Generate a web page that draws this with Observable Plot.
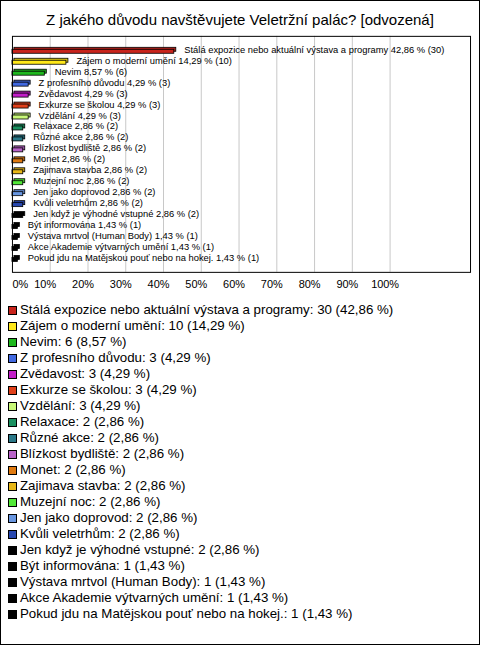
<!DOCTYPE html>
<html>
<head>
<meta charset="utf-8">
<script src="https://cdn.jsdelivr.net/npm/d3@7"></script>
<script src="https://cdn.jsdelivr.net/npm/@observablehq/plot@0.6"></script>
<style>
  html, body { margin: 0; padding: 0; background: #fff; }
  #page { position: relative; width: 480px; height: 645px; box-sizing: border-box; border: 1px solid #000; overflow: hidden; font-family: "Liberation Sans", Arial, sans-serif; }
  #title { position: absolute; left: 0; top: 9px; width: 478px; text-align: center; font-size: 15px; line-height: 20px; color: #000; }
  #chart { position: absolute; left: -1px; top: -1px; }
  #legend { position: absolute; left: 7px; top: 301px; font-size: 13.3px; color: #000; }
  .row { height: 16px; line-height: 16px; display: flex; align-items: center; white-space: nowrap; }
  .sw { width: 7px; height: 7px; border: 1px solid #000; margin-right: 3px; flex: none; }
</style>
</head>
<body>
<div id="page">
  <div id="title">Z jakého důvodu navštěvujete Veletržní palác? [odvozená]</div>
  <div id="chart"></div>
  <div id="legend"></div>
</div>
<script>
const categories = [
  "Stálá expozice nebo aktuální výstava a programy",
  "Zájem o moderní umění",
  "Nevim",
  "Z profesního důvodu",
  "Zvědavost",
  "Exkurze se školou",
  "Vzdělání",
  "Relaxace",
  "Různé akce",
  "Blízkost bydliště",
  "Monet",
  "Zajimava stavba",
  "Muzejní noc",
  "Jen jako doprovod",
  "Kvůli veletrhům",
  "Jen když je výhodné vstupné",
  "Být informována",
  "Výstava mrtvol (Human Body)",
  "Akce Akademie výtvarných umění",
  "Pokud jdu na Matějskou pouť nebo na hokej."
];
const counts = [30, 10, 6, 3, 3, 3, 3, 2, 2, 2, 2, 2, 2, 2, 2, 2, 1, 1, 1, 1];
const percents = [42.86, 14.29, 8.57, 4.29, 4.29, 4.29, 4.29, 2.86, 2.86, 2.86, 2.86, 2.86, 2.86, 2.86, 2.86, 2.86, 1.43, 1.43, 1.43, 1.43];
const colors = [
  "#c8241c", "#ffe81a", "#1eb81e", "#4169e1", "#c21ec8", "#e0401a", "#c8f878",
  "#1a9060", "#2a7888", "#b862c8", "#e07a10", "#e8b818", "#52e838", "#6896e0",
  "#2848b0", "#000000", "#000000", "#000000", "#000000", "#000000"
];
const tickValues = [0, 10, 20, 30, 40, 50, 60, 70, 80, 90, 100];
const tickLabels = ["0%", "10%", "20%", "30%", "40%", "50%", "60%", "70%", "80%", "90%", "100%"];

const fmt = v => v.toFixed(2).replace(".", ",");
const data = categories.map((name, i) => ({
  name, count: counts[i], pct: percents[i], color: colors[i]
}));
const ticks = tickValues.map((v, i) => ({v, label: tickLabels[i]}));

const darker = c => d3.color(c).darker(0.4).formatHex();

const chart = Plot.plot({
  width: 481,
  height: 301,
  marginTop: 36,
  marginBottom: 28,
  marginLeft: 12,
  marginRight: 9,
  style: {fontFamily: "Liberation Sans, Arial, sans-serif", background: "transparent", overflow: "visible"},
  x: {domain: [0, 121.3], axis: null},
  y: {domain: categories, axis: null, padding: 0},
  marks: [
    Plot.ruleX(tickValues.slice(1), {stroke: "#c8c8c8", strokeWidth: 1}),
    Plot.rectX(data, {x1: 0, x2: "pct", y: "name", fill: d => darker(d.color), stroke: "#000", strokeWidth: 0.8,
      insetTop: 4.5, insetBottom: 2.5, dx: 2, dy: -2}),
    Plot.rectX(data, {x1: 0, x2: "pct", y: "name", fill: "color", stroke: "#000", strokeWidth: 0.8,
      insetTop: 4.5, insetBottom: 2.5}),
    Plot.text(data, {x: "pct", y: "name", text: d => `${d.name} ${fmt(d.pct)} % (${d.count})`,
      textAnchor: "start", dx: 10, dy: -1, fontSize: 9.4, fill: "#000"}),
    Plot.frame({stroke: "#000", strokeWidth: 1}),
    Plot.text(ticks.slice(0, 1), {x: "v", text: "label", frameAnchor: "bottom", dy: 12, lineAnchor: "middle",
      textAnchor: "start", fontSize: 11, fill: "#000"}),
    Plot.text(ticks.slice(1), {x: "v", text: "label", frameAnchor: "bottom", dy: 12, lineAnchor: "middle",
      textAnchor: "middle", dx: -5, fontSize: 11, fill: "#000"})
  ]
});
document.getElementById("chart").appendChild(chart);

const legend = document.getElementById("legend");
data.forEach(d => {
  const row = document.createElement("div");
  row.className = "row";
  const sw = document.createElement("span");
  sw.className = "sw";
  sw.style.background = d.color;
  const t = document.createElement("span");
  t.textContent = `${d.name}: ${d.count} (${fmt(d.pct)} %)`;
  row.appendChild(sw);
  row.appendChild(t);
  legend.appendChild(row);
});
</script>
</body>
</html>
